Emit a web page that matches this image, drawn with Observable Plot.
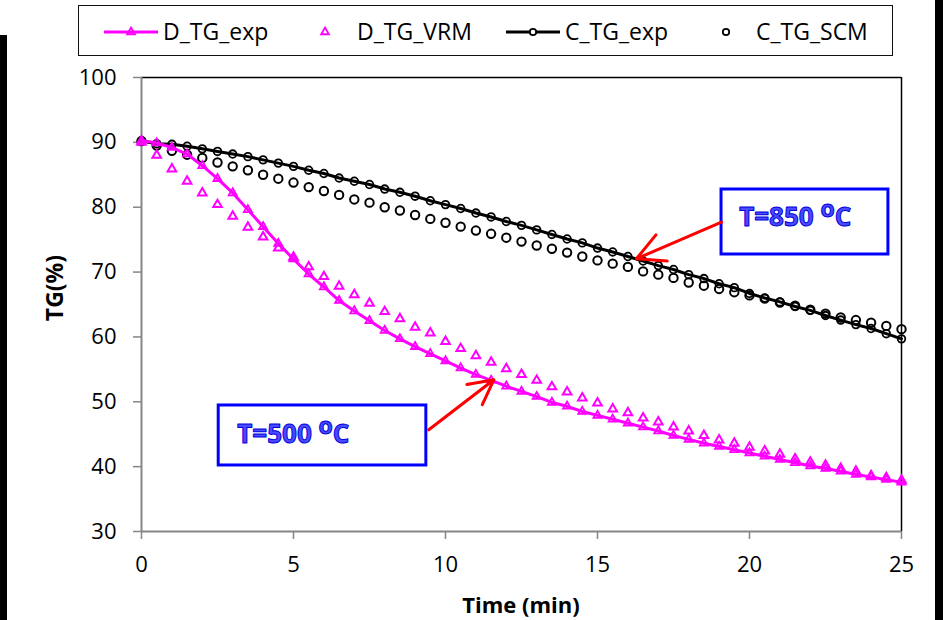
<!DOCTYPE html>
<html>
<head>
<meta charset="utf-8">
<script src="https://cdn.jsdelivr.net/npm/d3@7"></script>
<script src="https://cdn.jsdelivr.net/npm/@observablehq/plot@0.6"></script>
<style>
  body { margin: 0; background: #fff; }
  #wrap { position: relative; width: 943px; height: 620px; overflow: hidden; font-family: "Open Sans", sans-serif; color: #000; }
  .bar { position: absolute; background: #000; }
  #legend { position: absolute; left: 78px; top: 5px; width: 815px; height: 51px; box-sizing: border-box; border: 1.5px solid #111; }
  .lg-text { position: absolute; top: 15px; font-size: 23px; line-height: 32px; white-space: nowrap; }
  .lg-sw { position: absolute; top: 22px; }
  .axtitle { position: absolute; font-size: 22px; font-weight: bold; white-space: nowrap; transform: translate(-50%, -50%); }
  #chart { position: absolute; left: 0; top: 0; }
</style>
</head>
<body>
<div id="wrap">
  <div id="chart"></div>
  <div class="bar" style="left:0;top:35px;width:7px;height:585px"></div>
  <div class="bar" style="left:935px;top:0;width:8px;height:620px"></div>
  <div id="legend"></div>
  <div id="legendItems"></div>
  <div class="axtitle" id="ytitle" style="left:54px;top:288px;font-size:23px;transform:translate(-50%,-50%) rotate(-90deg)"></div>
  <div class="axtitle" id="xtitle" style="left:521px;top:604px"></div>
</div>
<script>
// ---- data ----
const times = [0,0.5,1,1.5,2,2.5,3,3.5,4,4.5,5,5.5,6,6.5,7,7.5,8,8.5,9,9.5,10,10.5,11,11.5,12,12.5,13,13.5,14,14.5,15,15.5,16,16.5,17,17.5,18,18.5,19,19.5,20,20.5,21,21.5,22,22.5,23,23.5,24,24.5,25];

const D_TG_exp = [90.3,89.9,89.2,88.2,86.4,84.4,82.2,79.6,77.0,74.4,72.0,69.7,67.7,65.6,64.0,62.5,61.0,59.7,58.5,57.4,56.3,55.2,54.2,53.3,52.4,51.6,50.8,49.9,49.3,48.5,47.9,47.3,46.7,46.1,45.5,44.8,44.2,43.6,43.1,42.6,42.1,41.6,41.1,40.6,40.1,39.7,39.3,38.8,38.4,38.0,37.6];

const D_TG_VRM = [90.0,88.0,85.9,84.0,82.2,80.4,78.6,76.9,75.4,73.7,72.3,70.8,69.3,67.8,66.5,65.2,63.9,62.8,61.5,60.6,59.3,58.2,57.1,56.1,55.1,54.2,53.3,52.3,51.5,50.6,49.8,48.9,48.3,47.5,46.9,46.1,45.5,44.8,44.1,43.6,43.0,42.4,41.9,41.2,40.7,40.2,39.7,39.3,38.6,38.3,37.9];

const C_TG_exp = [90.2,89.8,89.7,89.4,89.0,88.6,88.2,87.8,87.3,86.8,86.3,85.7,85.2,84.5,84.0,83.5,82.8,82.3,81.7,81.0,80.4,79.8,79.1,78.5,77.8,77.2,76.5,75.8,75.1,74.5,73.7,73.1,72.4,71.7,71.0,70.4,69.6,69.0,68.2,67.6,66.7,66.0,65.4,64.7,64.1,63.3,62.6,61.9,61.3,60.5,59.7];

const C_TG_SCM = [90.2,89.5,88.7,88.1,87.6,86.9,86.3,85.7,85.0,84.4,83.8,83.1,82.5,81.9,81.2,80.7,80.0,79.5,78.8,78.2,77.6,77.0,76.4,75.9,75.3,74.7,74.1,73.6,73.0,72.4,71.8,71.3,70.8,70.1,69.6,69.1,68.4,67.9,67.4,66.9,66.4,65.9,65.3,64.8,64.2,63.6,63.0,62.6,62.2,61.7,61.2];

const xTicks = [0,5,10,15,20,25];
const yTicks = [30,40,50,60,70,80,90,100];

const seriesNames = ["D_TG_exp","D_TG_VRM","C_TG_exp","C_TG_SCM"];
const xTitle = "Time (min)";
const yTitle = "TG(%)";

// annotations (data coordinates)
const annoText = ["T=850 ºC","T=500 ºC"];
const annoX = [19.66, 3.15];
const annoY = [78.4, 45.0];
const boxX1 = [19.08, 2.54];
const boxX2 = [24.57, 9.37];
const boxY1 = [72.71, 40.18];
const boxY2 = [82.73, 49.43];
const arrowX1 = [19.08, 9.45];
const arrowY1 = [77.69, 45.68];
const arrowX2 = [16.28, 11.59];
const arrowY2 = [72.05, 53.39];

// ---- build ----
const rows = arr => times.map((t, i) => ({t, v: arr[i]}));
const dExp = rows(D_TG_exp), dVrm = rows(D_TG_VRM), cExp = rows(C_TG_exp), cScm = rows(C_TG_SCM);
const boxes = annoText.map((s, i) => ({x1: boxX1[i], x2: boxX2[i], y1: boxY1[i], y2: boxY2[i]}));
const arrows = annoText.map((s, i) => ({x1: arrowX1[i], y1: arrowY1[i], x2: arrowX2[i], y2: arrowY2[i]}));
const annos = annoText.map((s, i) => ({x: annoX[i], y: annoY[i], text: s}));

const MAG = "#ff00ff", AX = "#868686";

const plot = Plot.plot({
  width: 943,
  height: 620,
  marginLeft: 141,
  marginRight: 42,
  marginTop: 77,
  marginBottom: 89,
  style: {fontFamily: "'Open Sans', sans-serif", fontSize: "22px", background: "transparent", color: "#000"},
  x: {domain: [0, 25], label: null},
  y: {domain: [30, 100], label: null},
  marks: [
    Plot.ruleY([100], {stroke: "#000", strokeWidth: 1.5}),
    Plot.ruleX([25], {stroke: "#000", strokeWidth: 1.5}),
    Plot.axisY({ticks: yTicks, tickSize: 8, tickPadding: 17, stroke: AX, strokeWidth: 1.5, fill: "#000", fontSize: 22, label: null}),
    Plot.axisX({ticks: xTicks, tickSize: 8, tickPadding: 17, stroke: AX, strokeWidth: 1.5, fill: "#000", fontSize: 22, label: null}),
    Plot.ruleX([0], {stroke: AX, strokeWidth: 2}),
    Plot.ruleY([30], {stroke: AX, strokeWidth: 2}),
    Plot.rect(boxes, {x1: "x1", x2: "x2", y1: "y1", y2: "y2", fill: "white", stroke: "#0000ff", strokeWidth: 3}),
    Plot.line(cExp, {x: "t", y: "v", stroke: "#000", strokeWidth: 3}),
    Plot.dot(cExp, {x: "t", y: "v", r: 3.8, stroke: "#000", strokeWidth: 1.8, fill: "none"}),
    Plot.dot(cScm, {x: "t", y: "v", r: 4.2, stroke: "#000", strokeWidth: 2, fill: "none"}),
    Plot.line(dExp, {x: "t", y: "v", stroke: MAG, strokeWidth: 3}),
    Plot.dot(dExp, {x: "t", y: "v", symbol: "triangle", r: 3.0, stroke: MAG, strokeWidth: 1.8, fill: "none"}),
    Plot.dot(dVrm, {x: "t", y: "v", symbol: "triangle", r: 3.2, stroke: MAG, strokeWidth: 2, fill: "none"}),
    Plot.arrow(arrows, {x1: "x1", y1: "y1", x2: "x2", y2: "y2", stroke: "#ff0000", strokeWidth: 3, headLength: 18, headAngle: 55}),
    Plot.text(annos, {x: "x", y: "y", text: "text", textAnchor: "start", lineAnchor: "middle", fontSize: 26, fontWeight: "bold", fill: "#4a4aff", stroke: "#0000dd", strokeWidth: 1, paintOrder: "normal", className: "anno"})
  ]
});
document.getElementById("chart").appendChild(plot);

// superscript "o" for degree sign in annotations
plot.querySelectorAll(".anno text").forEach(el => {
  const s = el.textContent;
  const k = s.indexOf("º");
  if (k < 0) return;
  el.textContent = "";
  const ns = "http://www.w3.org/2000/svg";
  const a = document.createElementNS(ns, "tspan"); a.textContent = s.slice(0, k); el.appendChild(a);
  const o = document.createElementNS(ns, "tspan"); o.textContent = "o"; o.setAttribute("dy", "-9"); o.setAttribute("font-size", "23"); el.appendChild(o);
  const c = document.createElementNS(ns, "tspan"); c.textContent = s.slice(k + 1); c.setAttribute("dy", "9"); el.appendChild(c);
});

// axis titles
document.getElementById("xtitle").textContent = xTitle;
document.getElementById("ytitle").textContent = yTitle;

// legend (HTML)
const legendItems = document.getElementById("legendItems");
const swatch = (left, kind) => {
  const w = 54, h = 20;
  const svg = d3.create("svg").attr("width", w).attr("height", h).attr("class", "lg-sw").style("left", left + "px").style("position", "absolute");
  const cx = w / 2, cy = h / 2;
  if (kind === 0) {
    svg.append("line").attr("x1", 0).attr("x2", w).attr("y1", cy).attr("y2", cy).attr("stroke", MAG).attr("stroke-width", 3);
    svg.append("path").attr("d", d3.symbol(d3.symbolTriangle, 26)()).attr("transform", `translate(${cx},${cy})`).attr("fill", "none").attr("stroke", MAG).attr("stroke-width", 1.8);
  } else if (kind === 1) {
    svg.append("path").attr("d", d3.symbol(d3.symbolTriangle, 26)()).attr("transform", `translate(${cx},${cy})`).attr("fill", "none").attr("stroke", MAG).attr("stroke-width", 1.8);
  } else if (kind === 2) {
    svg.append("line").attr("x1", 0).attr("x2", w).attr("y1", cy).attr("y2", cy).attr("stroke", "#000").attr("stroke-width", 3);
    svg.append("circle").attr("cx", cx).attr("cy", cy).attr("r", 3.2).attr("fill", "#fff").attr("stroke", "#000").attr("stroke-width", 1.8);
  } else {
    svg.append("circle").attr("cx", cx).attr("cy", cy).attr("r", 3.2).attr("fill", "none").attr("stroke", "#000").attr("stroke-width", 1.8);
  }
  legendItems.appendChild(svg.node());
};
const swLeft = [104, 298, 506, 699];
const txLeft = [163, 357, 565, 756];
seriesNames.forEach((name, i) => {
  swatch(swLeft[i], i);
  const sp = document.createElement("div");
  sp.className = "lg-text";
  sp.style.left = txLeft[i] + "px";
  sp.textContent = name;
  legendItems.appendChild(sp);
});
</script>
</body>
</html>
